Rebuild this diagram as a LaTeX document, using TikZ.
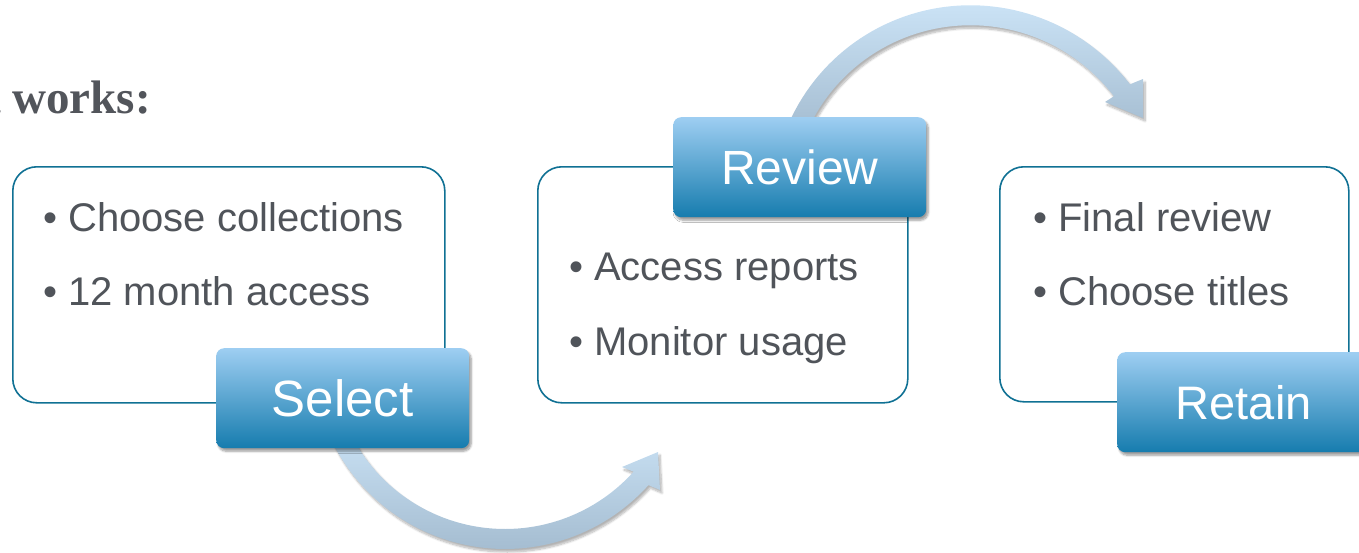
\documentclass[tikz,border=0pt]{standalone}
\usepackage{fontspec}
\setmainfont{Liberation Sans}
\newfontfamily\titlefont{Liberation Serif}
\usetikzlibrary{shadows.blur}
\definecolor{txt}{RGB}{80,84,90}
\definecolor{ttl}{RGB}{82,85,91}
\definecolor{edge}{RGB}{16,113,148}
\definecolor{tabtop}{RGB}{158,206,242}
\definecolor{tabbot}{RGB}{22,124,174}
\definecolor{arrtop}{RGB}{202,226,245}
\definecolor{arrbot}{RGB}{165,189,209}
\begin{document}
\begin{tikzpicture}[x=1pt,y=-1pt,
  panel/.style={draw=edge, line width=1.6pt, fill=white, rounded corners=24pt, anchor=north west, inner sep=0pt, minimum height=236pt},
  tab/.style={rounded corners=8pt, top color=tabtop, bottom color=tabbot, anchor=north west, minimum width=253pt, minimum height=100pt, inner sep=0pt, text=white,
    blur shadow={shadow xshift=2pt, shadow yshift=-3pt, shadow blur steps=8, shadow opacity=40}},
  item/.style={anchor=base west, inner sep=0pt, text=txt, font=\fontsize{40}{48}\selectfont},
  bigarrow/.style={top color=arrtop, bottom color=arrbot, draw=none,
    blur shadow={shadow xshift=2pt, shadow yshift=-3pt, shadow blur steps=8, shadow opacity=30}}
]
\useasboundingbox (0,0) rectangle (1359,552);
\clip (0,0) rectangle (1359,552);

% title
\node[anchor=base east, inner sep=0pt, text=ttl, font=\titlefont\bfseries\fontsize{47}{56}\selectfont] (title) at (151,113) {How it works:};

% curved arrows
\shade[bigarrow] plot[domain=155:42, samples=60] ({505+193*cos(\x)},{356+193*sin(\x)})
  -- (660,490) -- (658,452) -- (622,467)
  -- plot[domain=42:155, samples=60] ({505+173*cos(\x)},{356+173*sin(\x)}) -- cycle;
\shade[bigarrow] plot[domain=205:323.3, samples=60] ({968+(197+5*(\x-205)/118.3)*cos(\x)},{205+(197+5*(\x-205)/118.3)*sin(\x)})
  -- (1143,79) -- (1143,118) -- (1105,102)
  -- plot[domain=323.3:205, samples=60] ({968+(177+5*(\x-205)/118.3)*cos(\x)},{205+(177+5*(\x-205)/118.3)*sin(\x)}) -- cycle;

% panels
\node[panel, minimum width=432pt] (box1) at (12,166) {};
\node[panel, minimum width=370pt] (box2) at (537,166) {};
\node[panel, minimum width=349pt, minimum height=235pt] (box3) at (999,166) {};

% bullet texts
\node[item] (b11) at (43,231) {• Choose collections};
\node[item] (b12) at (43,305) {• 12 month access};
\node[item] (b21) at (569,280) {• Access reports};
\node[item] (b22) at (569,355) {• Monitor usage};
\node[item] (b31) at (1033,231) {• Final review};
\node[item] (b32) at (1033,305) {• Choose titles};

% tabs
\node[tab, font=\fontsize{51}{60}\selectfont] (select) at (216,348) {Select};
\node[tab, font=\fontsize{48}{56}\selectfont] (review) at (673,117) {Review};
\node[tab, font=\fontsize{47}{56}\selectfont] (retain) at (1117,352) {Retain};
\end{tikzpicture}
\end{document}
